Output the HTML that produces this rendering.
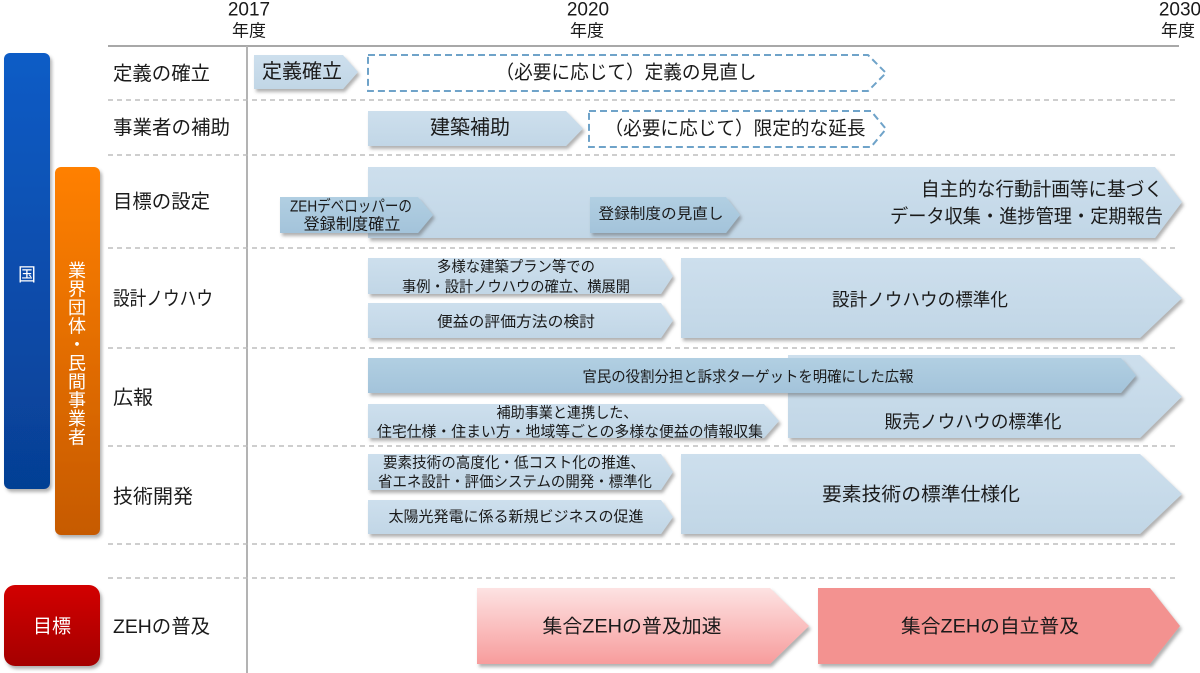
<!DOCTYPE html>
<html><head><meta charset="utf-8">
<style>
html,body{margin:0;padding:0;background:#fff;}
svg{display:block;}
text{font-family:"Liberation Sans","Noto Sans CJK JP",sans-serif;fill:#1a1a1a;}
.w{fill:#fff;}
</style></head>
<body>
<svg width="1200" height="673" viewBox="0 0 1200 673" xmlns="http://www.w3.org/2000/svg">
<defs>
<filter id="sh" x="-5%" y="-20%" width="115%" height="150%">
<feDropShadow dx="2" dy="3" stdDeviation="1.5" flood-color="#555" flood-opacity="0.45"/>
</filter>
<linearGradient id="gb" x1="0" y1="0" x2="0" y2="1"><stop offset="0" stop-color="#0b5cc6"/><stop offset="1" stop-color="#063f94"/></linearGradient>
<linearGradient id="go" x1="0" y1="0" x2="0" y2="1"><stop offset="0" stop-color="#ff8000"/><stop offset="1" stop-color="#c65a00"/></linearGradient>
<linearGradient id="gr" x1="0" y1="0" x2="0" y2="1"><stop offset="0" stop-color="#d20000"/><stop offset="1" stop-color="#a40000"/></linearGradient>
<linearGradient id="gl" x1="0" y1="0" x2="0" y2="1"><stop offset="0" stop-color="#cddfed"/><stop offset="1" stop-color="#c1d6e6"/></linearGradient>
<linearGradient id="gd" x1="0" y1="0" x2="0" y2="1"><stop offset="0" stop-color="#b1cfe2"/><stop offset="1" stop-color="#a3c3da"/></linearGradient>
<linearGradient id="gp" x1="0" y1="0" x2="0" y2="1"><stop offset="0" stop-color="#fde2e2"/><stop offset="1" stop-color="#f79c9c"/></linearGradient>
</defs>

<!-- header -->
<text x="249" y="10" font-size="19" text-anchor="middle" dominant-baseline="central">2017</text>
<text x="249" y="31" font-size="17" text-anchor="middle" dominant-baseline="central">年度</text>
<text x="588" y="10" font-size="19" text-anchor="middle" dominant-baseline="central">2020</text>
<text x="587" y="31" font-size="17" text-anchor="middle" dominant-baseline="central">年度</text>
<text x="1180" y="10" font-size="19" text-anchor="middle" dominant-baseline="central">2030</text>
<text x="1178" y="31" font-size="17" text-anchor="middle" dominant-baseline="central">年度</text>

<!-- grid -->
<line x1="108" y1="46" x2="1179" y2="46" stroke="#a8a8a8" stroke-width="2"/>
<line x1="247" y1="46" x2="247" y2="673" stroke="#b3b3b3" stroke-width="2"/>
<g stroke="#bdbdbd" stroke-width="1.5" stroke-dasharray="5,4">
<line x1="108" y1="100" x2="1178" y2="100"/>
<line x1="108" y1="155" x2="1178" y2="155"/>
<line x1="108" y1="248" x2="1178" y2="248"/>
<line x1="108" y1="348" x2="1178" y2="348"/>
<line x1="108" y1="446" x2="1178" y2="446"/>
<line x1="108" y1="544" x2="1178" y2="544"/>
<line x1="108" y1="578" x2="1178" y2="578"/>
</g>

<!-- left bars -->
<rect x="4" y="53" width="46" height="436" rx="6" fill="url(#gb)" filter="url(#sh)"/>
<text x="27" y="275" font-size="18" text-anchor="middle" dominant-baseline="central" class="w">国</text>
<rect x="55" y="167" width="45" height="368" rx="6" fill="url(#go)" filter="url(#sh)"/>
<g font-size="18" text-anchor="middle" dominant-baseline="central">
<text x="77" y="271" class="w">業</text>
<text x="77" y="289.5" class="w">界</text>
<text x="77" y="308" class="w">団</text>
<text x="77" y="326.5" class="w">体</text>
<text x="77" y="345" class="w">・</text>
<text x="77" y="363.5" class="w">民</text>
<text x="77" y="382" class="w">間</text>
<text x="77" y="400.5" class="w">事</text>
<text x="77" y="419" class="w">業</text>
<text x="77" y="437.5" class="w">者</text>
</g>
<rect x="4" y="585" width="96" height="81" rx="11" fill="url(#gr)" filter="url(#sh)"/>
<text x="52" y="627" font-size="19" text-anchor="middle" dominant-baseline="central" class="w">目標</text>

<!-- row labels -->
<g font-size="19.5" dominant-baseline="central">
<text x="113" y="74" textLength="97" lengthAdjust="spacingAndGlyphs">定義の確立</text>
<text x="113" y="128" textLength="117" lengthAdjust="spacingAndGlyphs">事業者の補助</text>
<text x="113" y="202" textLength="97" lengthAdjust="spacingAndGlyphs">目標の設定</text>
<text x="113" y="299" textLength="100" lengthAdjust="spacingAndGlyphs">設計ノウハウ</text>
<text x="113" y="398" textLength="40" lengthAdjust="spacingAndGlyphs">広報</text>
<text x="113" y="497" textLength="80" lengthAdjust="spacingAndGlyphs">技術開発</text>
<text x="113" y="627" textLength="97" lengthAdjust="spacingAndGlyphs">ZEHの普及</text>
</g>

<!-- row 1 -->
<polygon points="254,55 343,55 358,72 343,89 254,89" fill="url(#gl)" filter="url(#sh)"/>
<text x="302" y="72" font-size="20" text-anchor="middle" dominant-baseline="central" textLength="80" lengthAdjust="spacingAndGlyphs">定義確立</text>
<polygon points="368,55 868,55 886,73 868,91 368,91" fill="#fff" stroke="#6fa3c9" stroke-width="2" stroke-dasharray="7,4"/>
<text x="626" y="73" font-size="19" text-anchor="middle" dominant-baseline="central" textLength="261" lengthAdjust="spacingAndGlyphs">（必要に応じて）定義の見直し</text>

<!-- row 2 -->
<polygon points="368,111 566,111 583,128.5 566,146 368,146" fill="url(#gl)" filter="url(#sh)"/>
<text x="470" y="128" font-size="20" text-anchor="middle" dominant-baseline="central" textLength="80" lengthAdjust="spacingAndGlyphs">建築補助</text>
<polygon points="589,111 871,111 886,129 871,147 589,147" fill="#fff" stroke="#6fa3c9" stroke-width="2" stroke-dasharray="7,4"/>
<text x="735" y="129" font-size="19" text-anchor="middle" dominant-baseline="central" textLength="261" lengthAdjust="spacingAndGlyphs">（必要に応じて）限定的な延長</text>

<!-- row 3 -->
<polygon points="368,167 1155,167 1182,202 1155,238 368,238" fill="url(#gl)" filter="url(#sh)"/>
<text x="1163" y="190" font-size="19" text-anchor="end" dominant-baseline="central" textLength="242" lengthAdjust="spacingAndGlyphs">自主的な行動計画等に基づく</text>
<text x="1163" y="217" font-size="19" text-anchor="end" dominant-baseline="central" textLength="273" lengthAdjust="spacingAndGlyphs">データ収集・進捗管理・定期報告</text>
<polygon points="280,197 418,197 433,215 418,233 280,233" fill="url(#gd)" filter="url(#sh)"/>
<text x="351" y="207" font-size="16" text-anchor="middle" dominant-baseline="central" textLength="122" lengthAdjust="spacingAndGlyphs">ZEHデベロッパーの</text>
<text x="352" y="225" font-size="16" text-anchor="middle" dominant-baseline="central" textLength="97" lengthAdjust="spacingAndGlyphs">登録制度確立</text>
<polygon points="590,197 726,197 740,215 726,233 590,233" fill="url(#gd)" filter="url(#sh)"/>
<text x="661" y="214" font-size="15" text-anchor="middle" dominant-baseline="central" textLength="125" lengthAdjust="spacingAndGlyphs">登録制度の見直し</text>

<!-- row 4 -->
<polygon points="681,258 1140,258 1182,298 1140,338 681,338" fill="url(#gl)" filter="url(#sh)"/>
<text x="920" y="300" font-size="18" text-anchor="middle" dominant-baseline="central" textLength="176" lengthAdjust="spacingAndGlyphs">設計ノウハウの標準化</text>
<polygon points="368,258 661,258 673,276 661,294 368,294" fill="url(#gl)" filter="url(#sh)"/>
<text x="516" y="267" font-size="15" text-anchor="middle" dominant-baseline="central" textLength="158" lengthAdjust="spacingAndGlyphs">多様な建築プラン等での</text>
<text x="516" y="287" font-size="15" text-anchor="middle" dominant-baseline="central" textLength="228" lengthAdjust="spacingAndGlyphs">事例・設計ノウハウの確立、横展開</text>
<polygon points="368,303 661,303 673,320.5 661,338 368,338" fill="url(#gl)" filter="url(#sh)"/>
<text x="516" y="322" font-size="15" text-anchor="middle" dominant-baseline="central" textLength="158" lengthAdjust="spacingAndGlyphs">便益の評価方法の検討</text>

<!-- row 5 -->
<polygon points="788,355 1140,355 1182,396.5 1140,438 788,438" fill="url(#gl)" filter="url(#sh)"/>
<text x="973" y="422" font-size="18" text-anchor="middle" dominant-baseline="central" textLength="177" lengthAdjust="spacingAndGlyphs">販売ノウハウの標準化</text>
<polygon points="368,358 1121,358 1136,375.5 1121,393 368,393" fill="url(#gd)" filter="url(#sh)"/>
<text x="748" y="377" font-size="15" text-anchor="middle" dominant-baseline="central" textLength="331" lengthAdjust="spacingAndGlyphs">官民の役割分担と訴求ターゲットを明確にした広報</text>
<polygon points="368,404 764,404 779,421 764,438 368,438" fill="url(#gl)" filter="url(#sh)"/>
<text x="567" y="413" font-size="15" text-anchor="middle" dominant-baseline="central" textLength="141" lengthAdjust="spacingAndGlyphs">補助事業と連携した、</text>
<text x="570" y="432" font-size="15" text-anchor="middle" dominant-baseline="central" textLength="386" lengthAdjust="spacingAndGlyphs">住宅仕様・住まい方・地域等ごとの多様な便益の情報収集</text>

<!-- row 6 -->
<polygon points="681,454 1140,454 1182,494 1140,534 681,534" fill="url(#gl)" filter="url(#sh)"/>
<text x="921" y="495" font-size="19" text-anchor="middle" dominant-baseline="central" textLength="198" lengthAdjust="spacingAndGlyphs">要素技術の標準仕様化</text>
<polygon points="368,454 661,454 673,472 661,490 368,490" fill="url(#gl)" filter="url(#sh)"/>
<text x="514" y="463" font-size="15" text-anchor="middle" dominant-baseline="central" textLength="262" lengthAdjust="spacingAndGlyphs">要素技術の高度化・低コスト化の推進、</text>
<text x="515" y="482" font-size="15" text-anchor="middle" dominant-baseline="central" textLength="274" lengthAdjust="spacingAndGlyphs">省エネ設計・評価システムの開発・標準化</text>
<polygon points="368,500 661,500 673,517 661,534 368,534" fill="url(#gl)" filter="url(#sh)"/>
<text x="516" y="517" font-size="15" text-anchor="middle" dominant-baseline="central" textLength="255" lengthAdjust="spacingAndGlyphs">太陽光発電に係る新規ビジネスの促進</text>

<!-- row 7 -->
<polygon points="477,588 770,588 809,626 770,664 477,664" fill="url(#gp)" filter="url(#sh)"/>
<text x="632" y="627" font-size="19" text-anchor="middle" dominant-baseline="central" textLength="179" lengthAdjust="spacingAndGlyphs">集合ZEHの普及加速</text>
<polygon points="818,588 1150,588 1180,626 1150,664 818,664" fill="#f39290" filter="url(#sh)"/>
<text x="990" y="627" font-size="19" text-anchor="middle" dominant-baseline="central" textLength="178" lengthAdjust="spacingAndGlyphs">集合ZEHの自立普及</text>
</svg>
</body></html>
